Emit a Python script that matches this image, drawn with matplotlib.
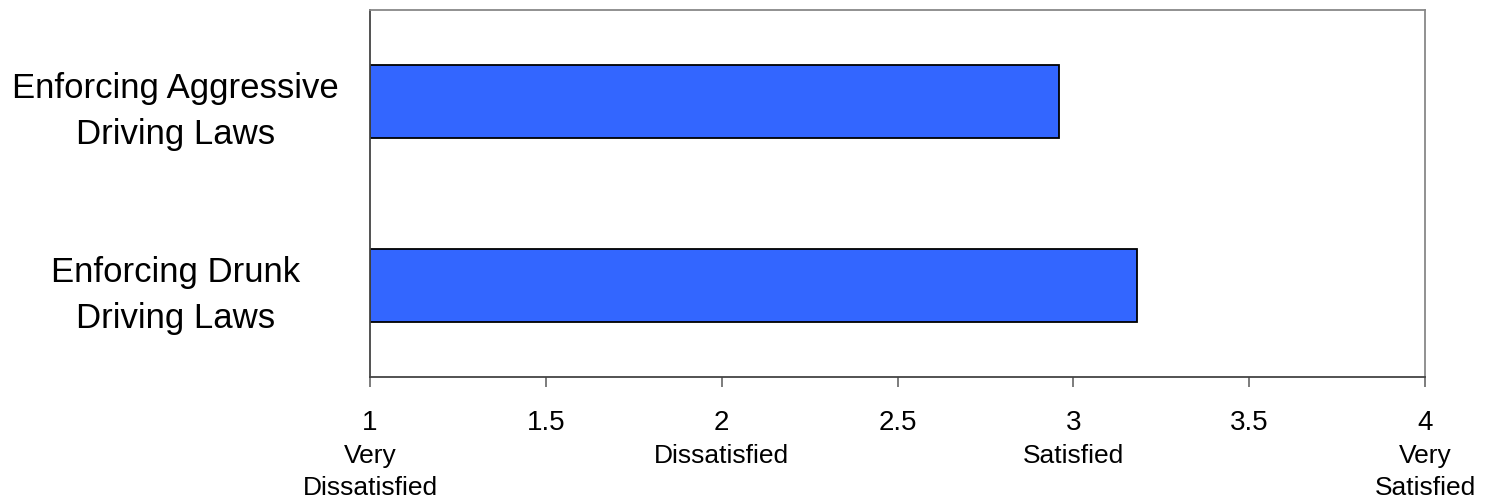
import matplotlib
matplotlib.use("Agg")
import matplotlib.pyplot as plt

# data
categories = ["Enforcing Aggressive\nDriving Laws", "Enforcing Drunk\nDriving Laws"]
scores = [2.96, 3.18]
tick_values = [1, 1.5, 2, 2.5, 3, 3.5, 4]
tick_labels = ["1", "1.5", "2", "2.5", "3", "3.5", "4"]
scale_values = [1, 2, 3, 4]
scale_labels = ["Very\nDissatisfied", "Dissatisfied", "Satisfied", "Very\nSatisfied"]

plt.rcParams["font.family"] = ["Liberation Sans", "DejaVu Sans"]

fig = plt.figure(figsize=(14.86, 5.01), dpi=100)
ax = fig.add_axes([0.249, 0.2475, 0.710, 0.7325])

y = list(range(len(categories)))
ax.barh(y, [s - 1 for s in scores], left=1, height=0.4,
        color="#3366FF", edgecolor="black", linewidth=1.3, zorder=2)

ax.set_xlim(1, 4)
ax.set_ylim(1.5, -0.5)
ax.set_yticks(y)
ax.set_yticklabels(categories, fontsize=25, ha="center", linespacing=1.5)
ax.tick_params(axis="y", length=0, pad=140)

ax.set_xticks(tick_values)
ax.set_xticklabels(tick_labels, fontsize=20)
ax.tick_params(axis="x", length=7, width=1.2, color="#666666", pad=17)

for v, lab in zip(scale_values, scale_labels):
    ax.annotate(lab, xy=(v, 0), xycoords=("data", "axes fraction"),
                xytext=(0, -48), textcoords="offset points",
                ha="center", va="top", fontsize=19, linespacing=1.42,
                annotation_clip=False)

for side in ["top", "right"]:
    ax.spines[side].set_color("#888888")
    ax.spines[side].set_linewidth(1.3)
for side in ["left", "bottom"]:
    ax.spines[side].set_color("#444444")
    ax.spines[side].set_linewidth(1.3)

fig.savefig("out.png", dpi=100)
